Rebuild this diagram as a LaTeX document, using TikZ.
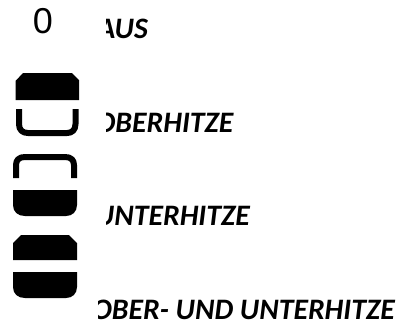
\documentclass[tikz,border=0pt]{standalone}
\usepackage{fontspec}
\setmainfont{Carlito}
\newfontfamily\zerofont{Liberation Sans}
\tikzset{
  lbl/.style={anchor=base east,inner sep=0pt,font=\fontsize{29.7}{31}\selectfont\bfseries\itshape,text=black},
  heat/.style={fill=black,draw=none},
  arch/.style={draw=black,line width=6pt,fill=none,line join=round},
  zero/.style={inner sep=0pt,font=\fontsize{36}{38}\selectfont\zerofont,text=black}
}
\begin{document}
\begin{tikzpicture}[x=1pt,y=-1pt]
\useasboundingbox (0,0) rectangle (400,325);
\node[zero] (off) at (43,21.5) {0};
\begin{scope}
\clip (106,0) rectangle (400,240);
\node[lbl] (laus) at (148,38) {AUS};
\node[lbl] (lober) at (233.5,132) {OBERHITZE};
\node[lbl] (lunter) at (250,225) {UNTERHITZE};
\end{scope}
\begin{scope}
\clip (98,290) rectangle (400,325);
\node[lbl] (lboth) at (395,319) {OBER- UND UNTERHITZE};
\end{scope}
% icon: top heat
\fill[heat] (15.5,100) -- (15.5,81) -- (23,73) -- (72,73) -- (79,80) -- (79,100) -- cycle;
\draw[arch] (19,109) -- (19,124) .. controls (19,130) and (22.5,133) .. (28,133) -- (67,133) .. controls (72,133) and (75.5,130) .. (75.5,124) -- (75.5,109);
% icon: bottom heat
\draw[arch] (16,178) -- (16,165) .. controls (16,160) and (19,157) .. (25,157) -- (65,157) .. controls (71,157) and (74,160) .. (74,165) -- (74,178);
\fill[heat] (13,190) -- (77,190) -- (77,205) .. controls (77,212) and (72,216) .. (66,216) -- (25,216) .. controls (18,216) and (13,212) .. (13,205) -- cycle;
% icon: both
\fill[heat] (13,260) -- (13,243) -- (21,235) -- (69,235) -- (77,243) -- (77,260) -- cycle;
\fill[heat] (13,272) -- (77,272) -- (77,287) .. controls (77,294) and (72,298) .. (66,298) -- (25,298) .. controls (18,298) and (13,294) .. (13,287) -- cycle;
\end{tikzpicture}
\end{document}
